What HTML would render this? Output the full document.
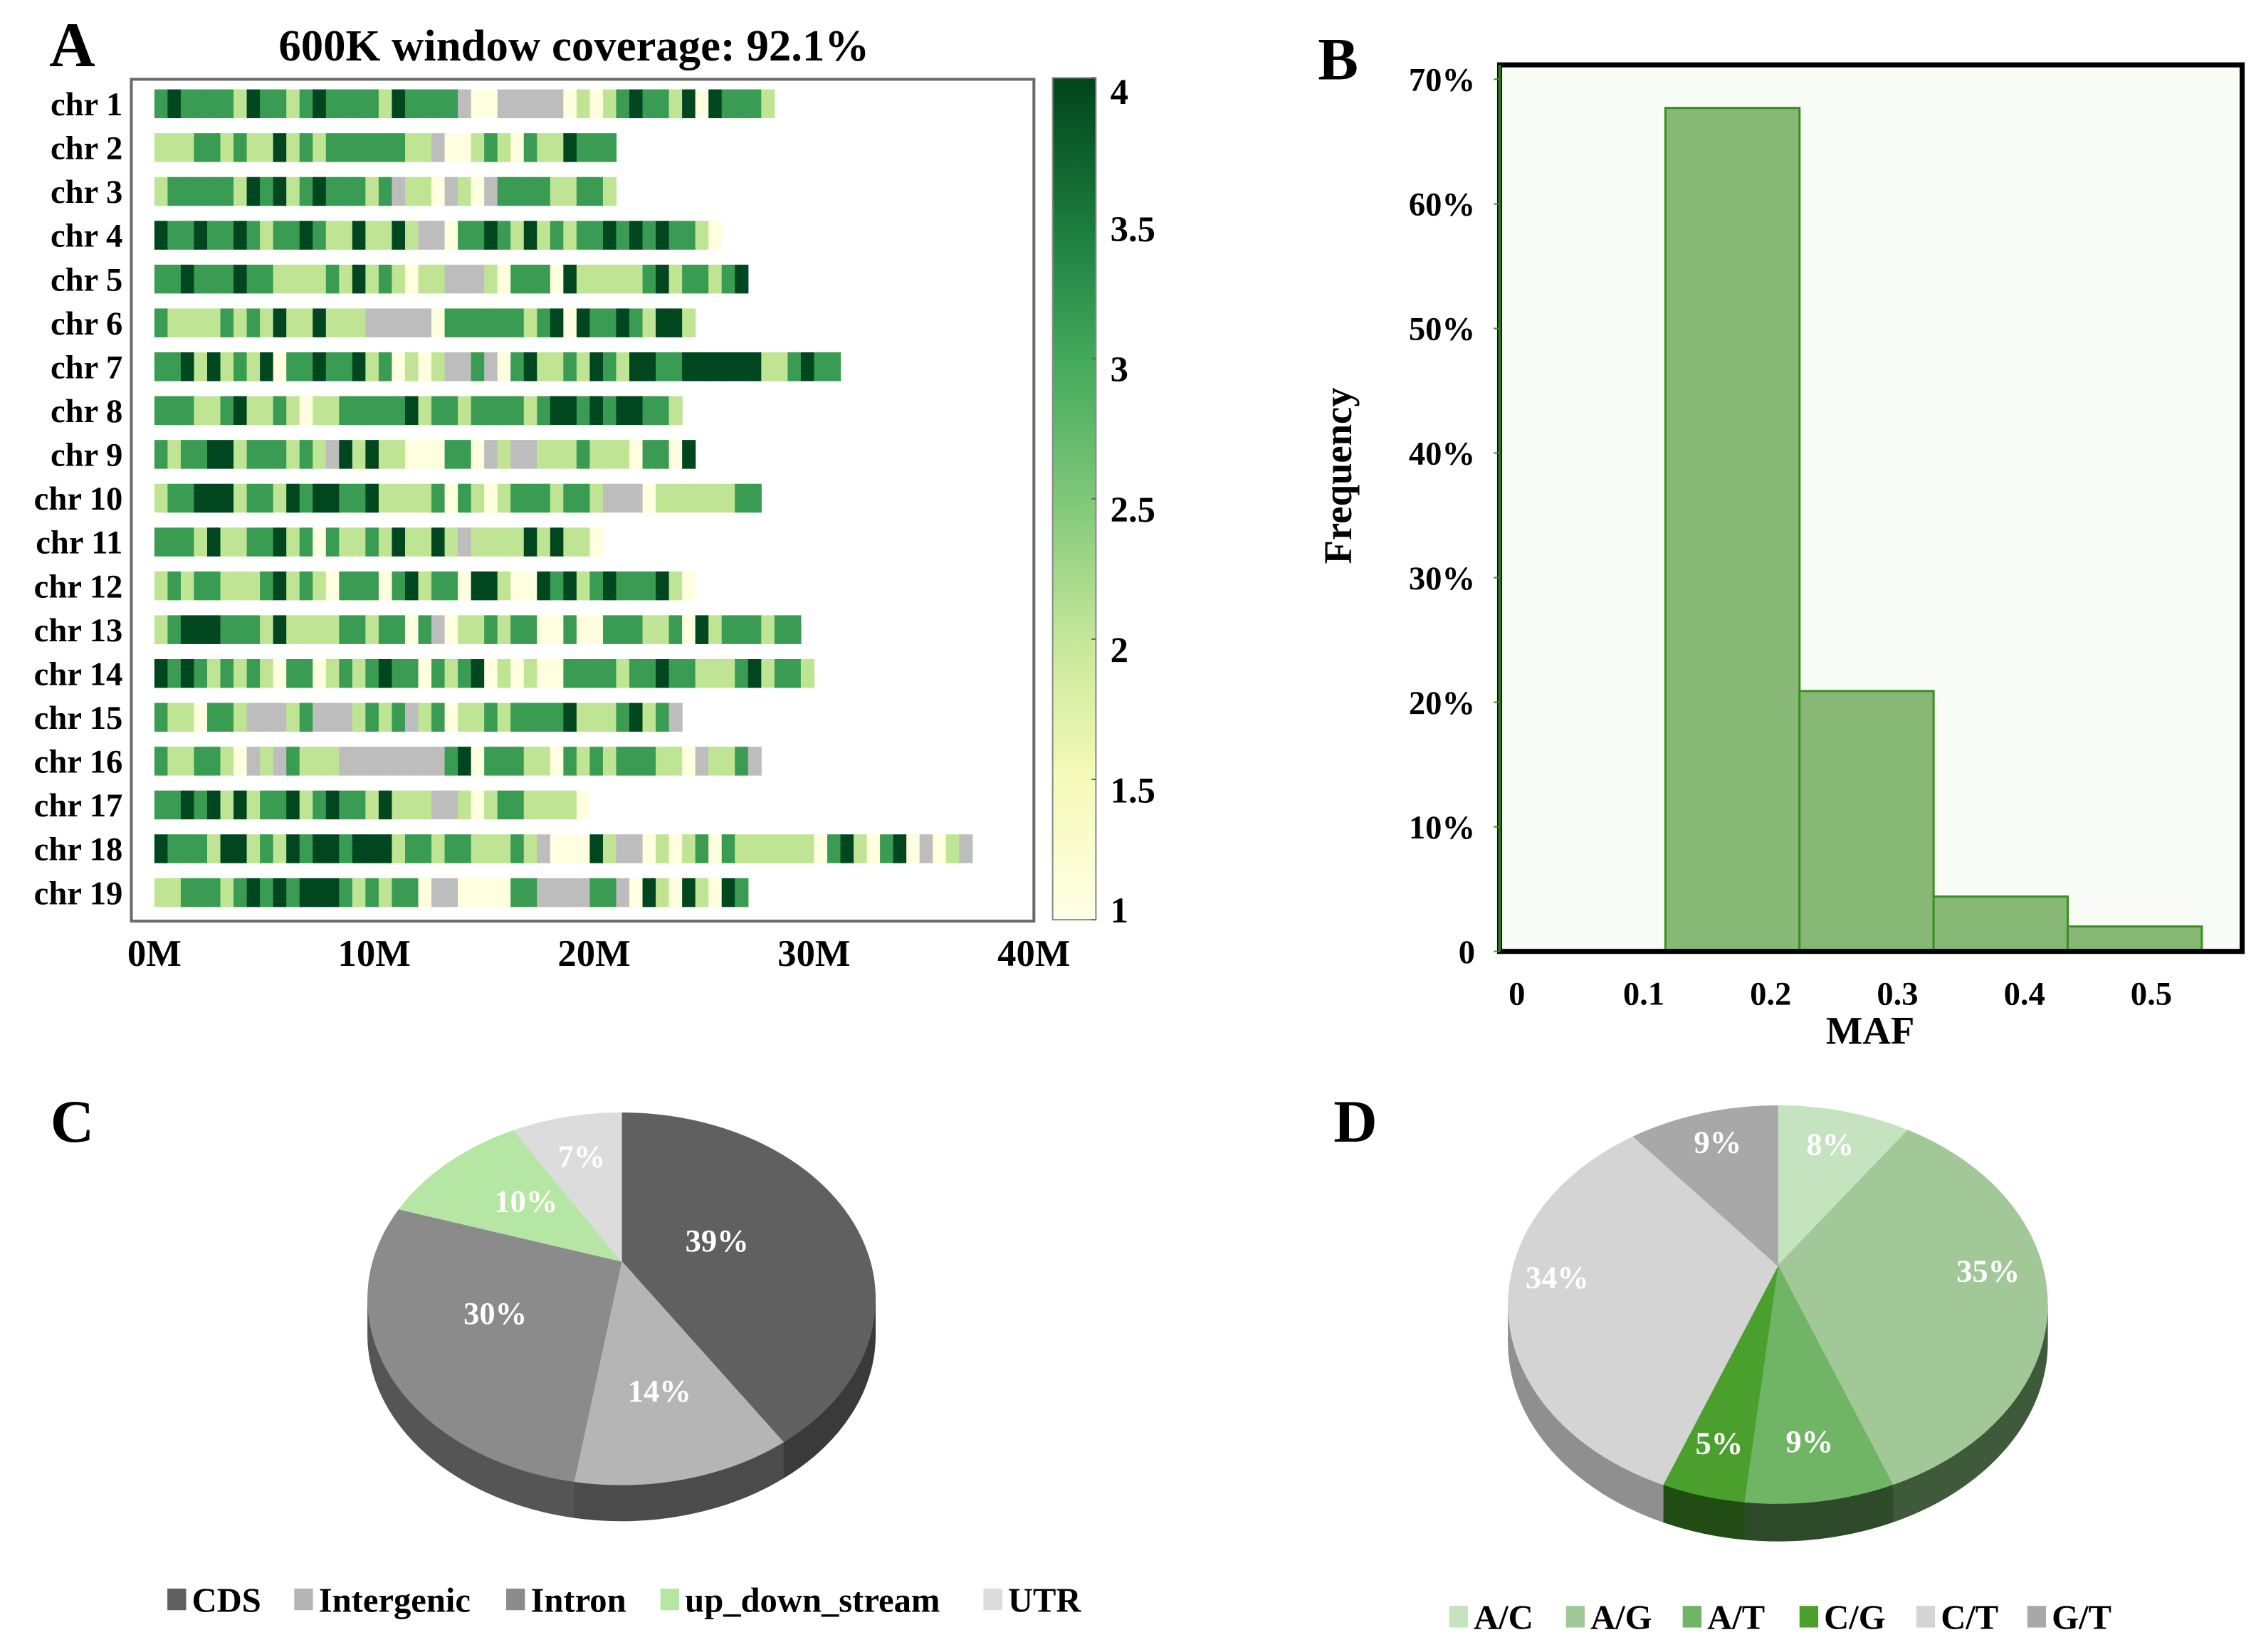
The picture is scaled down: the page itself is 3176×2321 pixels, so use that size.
<!DOCTYPE html>
<html><head><meta charset="utf-8">
<style>
html,body{margin:0;padding:0;background:#fff;}
svg{display:block;}
text{font-family:"Liberation Serif",serif;font-weight:bold;}
</style></head>
<body>
<svg id="fig" xmlns="http://www.w3.org/2000/svg" width="3176" height="2321" viewBox="0 0 1568 1146">
<defs>
<linearGradient id="cbar" x1="0" y1="1" x2="0" y2="0">
<stop offset="0" stop-color="#ffffe5"/>
<stop offset="0.17" stop-color="#f5fab8"/>
<stop offset="0.33" stop-color="#c7e79a"/>
<stop offset="0.5" stop-color="#7fc77a"/>
<stop offset="0.67" stop-color="#41a85a"/>
<stop offset="0.83" stop-color="#1a7a3c"/>
<stop offset="1" stop-color="#00441b"/>
</linearGradient>
</defs>
<g id="panelA"></g>
<g id="panelB"></g>
<g id="panelC"></g>
<g id="panelD"></g>
</svg>
<script>
// ---------- Panel A data ----------
const chrNames = ["chr 1","chr 2","chr 3","chr 4","chr 5","chr 6","chr 7","chr 8","chr 9","chr 10","chr 11","chr 12","chr 13","chr 14","chr 15","chr 16","chr 17","chr 18","chr 19"];
// window levels per 600K window: 0 = no data (gray), 1..4 = level
const chrWindows = [
"3 4 3333 2 4 33 2 3 4 3333 2 4 3333 0 11 00000 1 2 1 2 3 4 33 2 4 1 4 333 2",
"222 33 2 3 22 4 2 3 2 333333 22 0 11 2 3 2 1 3 22 4 333",
"2 33333 2 4 3 4 2 3 4 333 2 3 0 22 1 0 2 1 0 3333 22 33 2",
"4 33 4 33 4 3 2 33 4 3 22 4 22 4 2 00 1 33 4 3 2 4 2 3 2 33 4 3 4 3 4 33 2 1",
"33 4 333 4 33 2222 3 2 4 2 3 2 1 22 000 2 1 333 1 4 22222 3 4 2 33 2 3 4",
"3 2222 3 2 3 2 4 22 4 222 00000 1 333333 2 3 4 1 4 33 4 3 2 44 2",
"33 4 2 4 2 3 2 4 1 33 4 33 4 2 3 1 2 1 2 00 3 0 1 3 4 22 3 2 4 3 2 44 33 444444 22 3 4 33",
"333 22 3 4 22 3 2 1 22 33333 4 2 33 2 3333 2 3 44 3 4 3 44 33 2",
"3 2 33 44 2 333 2 3 2 0 4 2 4 22 111 33 1 0 2 00 222 3 222 1 33 1 4",
"2 33 444 2 33 2 4 3 44 33 4 2222 3 1 3 2 1 2 333 2 33 2 000 1 222222 33",
"333 2 4 22 33 4 2 3 1 3 22 3 2 4 22 4 2 0 2222 4 2 4 22 1",
"2 3 2 33 222 3 4 2 3 2 1 333 1 3 4 2 33 1 44 2 11 4 3 4 2 3 4 333 4 2 1",
"2 3 444 333 2 4 2222 33 2 33 1 3 0 1 22 3 2 33 1 1 3 11 3 33 22 3 1 4 2 333 2 33",
"4 3 4 3 2 3 2 3 2 1 33 1 2 3 2 3 4 33 1 3 2 3 4 1 2 1 2 11 3333 2 33 4 33 222 3 4 2 33 2",
"3 22 1 33 2 000 2 3 000 2 3 2 3 0 2 3 1 22 3 2 3333 4 22 2 3 4 2 3 0",
"3 22 33 2 1 0 2 0 3 222 00000000 3 4 1 333 22 1 3 2 3 2 333 22 1 0 22 3 0",
"33 4 3 4 2 4 2 33 4 2 3 4 33 2 4 222 00 2 1 2 33 2222 1",
"4 333 2 44 2 3 2 4 3 4 4 3 444 2 33 2 33 222 3 2 0 111 4 2 00 1 2 1 2 3 1 3 222222 1 3 4 2 1 3 4 1 0 1 2 0",
"22 333 2 3 4 3 4 3 444 3 2 3 2 33 1 00 1111 33 0000 33 0 1 4 2 1 4 2 1 4 3"
];
const tickLabelsA = ["0M","10M","20M","30M","40M"];
const tickValuesA = [0,10,20,30,40];
const cbarTicks = [1,1.5,2,2.5,3,3.5,4];
const windowSizeM = 0.6;

// ---------- Panel B data ----------
const mafBinStart = [0.1,0.2,0.3,0.4];
const mafBinEnd = [0.2,0.3,0.4,0.5];
const mafFreq = [67.7,20.9,4.4,2.0];
const mafTicks = [0,0.1,0.2,0.3,0.4,0.5];
const freqTicks = [0,10,20,30,40,50,60,70];

// ---------- Panel C data ----------
const cLabels = ["CDS","Intergenic","Intron","up_down_stream","UTR"];
const cValues = [39,14,30,10,7];
const cColors = ["#606060","#b5b5b5","#8b8b8b","#b6e6a3","#dcdcdc"];
const cSide = ["#3a3a3a","#4b4b4b","#555555","#6f8f62","#8a8a8a"];

// ---------- Panel D data ----------
const dLabels = ["A/C","A/G","A/T","C/G","C/T","G/T"];
const dValues = [8,35,9,5,34,9];
const dColors = ["#c6e3c0","#a1c896","#6fb565","#4a9f2d","#d4d4d4","#a8a8a8"];
const dSide = ["#6e8a6a","#3f5a3b","#2e4a2b","#214d14","#8f8f8f","#707070"];

const NS = "http://www.w3.org/2000/svg";
function mk(tag, attrs, parent){const e=document.createElementNS(NS,tag);for(const k in attrs)e.setAttribute(k,attrs[k]);parent.appendChild(e);return e;}

// ================= Panel A =================
(function(){
const g=document.getElementById('panelA');
const x0=107, pxPerM=(717-107)/40;
const xA=v=>x0+v*pxPerM;
const rowY=i=>72+i*30.4;
const barH=20;
const levelColor=["#bdbdbd","#ffffdf","#bfe594","#3a9c52","#00461f"];
let t=mk('text',{x:50,y:46,'font-size':44,'text-anchor':'middle'},g);t.textContent='A';

t=mk('text',{x:398,y:42,'font-size':31,'text-anchor':'middle'},g);t.textContent='600K window coverage:  92.1%';

const frame=mk('rect',{x:91,y:55,width:626,height:584,fill:'none',stroke:'#6a6a6a','stroke-width':2},g);

chrNames.forEach((name,i)=>{
  const y=rowY(i);
  const lab=mk('text',{x:85,y:y+8,'font-size':23,'text-anchor':'end'},g);lab.textContent=name;
  
  const rowG=mk('g',{},g);
  
  const w=chrWindows[i].replace(/\s/g,'');
  for(let k=0;k<w.length;k++){
    const lv=+w[k];
    const r=mk('rect',{x:xA(k*windowSizeM),y:y-barH/2,width:xA((k+1)*windowSizeM)-xA(k*windowSizeM)+0.3,height:barH,fill:levelColor[lv]},rowG);
    
  }
});
tickValuesA.forEach((v,i)=>{
  const tx=mk('text',{x:xA(v),y:670,'font-size':26,'text-anchor':'middle'},g);tx.textContent=tickLabelsA[i];
  
});
const cb=mk('rect',{x:730,y:54,width:30,height:584,fill:'url(#cbar)',stroke:'#888','stroke-width':1},g);

const cy=v=>638-(v-1)/3*584;
cbarTicks.forEach(v=>{
  mk('line',{x1:757,x2:760,y1:cy(v),y2:cy(v),stroke:'#666','stroke-width':1},g);
  const tx=mk('text',{x:770,y:Math.min(Math.max(cy(v)+16,72),640),'font-size':25},g);tx.textContent=String(v);
  
});
})();

// ================= Panel B =================
(function(){
const g=document.getElementById('panelB');
const L=1040,R=1555,T=45,B=660;
const yB=v=>660-v*(660-55)/70;
const xBar=v=>1155+(v-0.1)*(1248-1155)/0.1;
const xTick=v=>1052+v*880;
let t=mk('text',{x:928,y:55,'font-size':42,'text-anchor':'middle'},g);t.textContent='B';

const bg=mk('rect',{x:L,y:T,width:R-L,height:B-T,fill:'#f8fbf6'},g);

mafFreq.forEach((f,i)=>{
  const r=mk('rect',{x:xBar(mafBinStart[i]),y:yB(f),width:xBar(mafBinEnd[i])-xBar(mafBinStart[i]),height:yB(0)-yB(f),fill:'#88b875',stroke:'#3a8f22','stroke-width':1.5},g);
  
});
const fr=mk('rect',{x:L,y:T,width:R-L,height:B-T,fill:'none',stroke:'#000','stroke-width':3.5},g);

mk('line',{x1:L,x2:L,y1:T,y2:B,stroke:'#2f7a1a','stroke-width':2},g);
freqTicks.forEach(v=>{
  mk('line',{x1:L-4,x2:L,y1:yB(v),y2:yB(v),stroke:'#3a8f22','stroke-width':1},g);
  const tx=mk('text',{x:1023,y:yB(v)+8,'font-size':23,'text-anchor':'end'},g);tx.textContent=v===0?'0':v+'%';
  
});
mafTicks.forEach(v=>{
  const tx=mk('text',{x:xTick(v),y:697,'font-size':23,'text-anchor':'middle'},g);tx.textContent=String(v);
  
});
t=mk('text',{x:1297,y:724,'font-size':27,'text-anchor':'middle'},g);t.textContent='MAF';

t=mk('text',{x:0,y:0,'font-size':27,'text-anchor':'middle',transform:'translate(937,330) rotate(-90)'},g);t.textContent='Frequency';

})();

// ================= 3D pies =================
function pie3d(g, values, colors, sides, cx, ecy, ay, rx, ry, depth, labelPos){
  const total=values.reduce((a,b)=>a+b,0);
  const rim=(th,dy)=>[cx+rx*Math.sin(th), ecy-ry*Math.cos(th)+(dy||0)];
  let acc=0; const slices=[];
  values.forEach((v,i)=>{const a0=acc/total*2*Math.PI; acc+=v; const a1=acc/total*2*Math.PI; slices.push([a0,a1]);});
  slices.forEach(([a0,a1],i)=>{
    const s=Math.max(a0,Math.PI/2), e=Math.min(a1,3*Math.PI/2);
    if(e<=s) return;
    const p0=rim(s),p1=rim(e),q1=rim(e,depth),q0=rim(s,depth);
    const d=`M${p0} A${rx} ${ry} 0 0 1 ${p1} L${q1} A${rx} ${ry} 0 0 0 ${q0} Z`;
    const p=mk('path',{d:d,fill:sides[i],stroke:sides[i],'stroke-width':0.5},g);
    
  });
  slices.forEach(([a0,a1],i)=>{
    const p0=rim(a0),p1=rim(a1);
    const large=(a1-a0)>Math.PI?1:0;
    const d=`M${cx},${ay} L${p0} A${rx} ${ry} 0 ${large} 1 ${p1} Z`;
    const p=mk('path',{d:d,fill:colors[i],stroke:colors[i],'stroke-width':0.5},g);
    
  });
  slices.forEach(([a0,a1],i)=>{
    const m=(a0+a1)/2, f=labelPos[i];
    const px=cx+rx*f*Math.sin(m), py=ay-(Math.cos(m)>0?(ay-(ecy-ry)):((ecy+ry)-ay))*f*Math.cos(m);
    const tx=mk('text',{x:px,y:py+7,'font-size':22,'text-anchor':'middle',fill:'#fff'},g);
    tx.textContent=values[i]+'%';
    
  });
}
function legend(g, labels, colors, xs, y){
  labels.forEach((l,i)=>{
    const it=mk('g',{},g);
    
    mk('rect',{x:xs[i],y:y-8,width:13,height:15,fill:colors[i]},it);
    const tx=mk('text',{x:xs[i]+17,y:y+8,'font-size':24},it);tx.textContent=l;
  });
}

(function(){
const g=document.getElementById('panelC');
let t=mk('text',{x:50,y:792,'font-size':42,'text-anchor':'middle'},g);t.textContent='C';

pie3d(g,cValues,cColors,cSide,431,901,875,176,129,25,[0.4,0.6,0.55,0.55,0.72]);
const lg=mk('g',{},g);
legend(lg,cLabels,cColors,[116,204,351,458,682],1110);
})();

(function(){
const g=document.getElementById('panelD');
let t=mk('text',{x:940,y:792,'font-size':42,'text-anchor':'middle'},g);t.textContent='D';

pie3d(g,dValues,dColors,dSide,1233,905,878,187,138,26,[0.78,0.78,0.75,0.78,0.82,0.8]);
const lg=mk('g',{},g);
legend(lg,dLabels,dColors,[1005,1086,1167,1248,1329,1406],1122);
})();
</script>
</body></html>
